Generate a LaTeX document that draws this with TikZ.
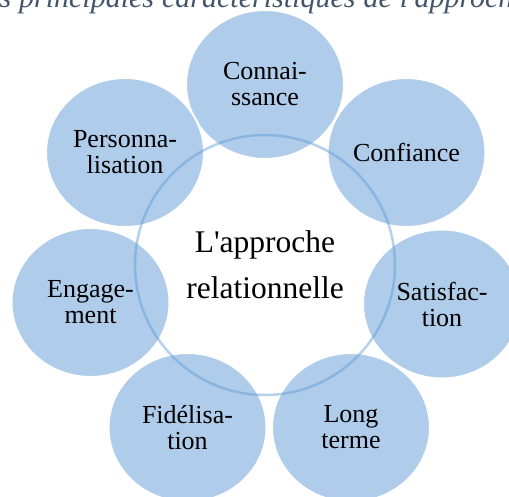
\documentclass[tikz,border=0pt]{standalone}
\usepackage{fontspec}
\setmainfont{Liberation Serif}[Ligatures=TeXOff]
\usetikzlibrary{shapes.geometric}
\definecolor{petalfill}{RGB}{175,204,234}
\definecolor{ringline}{RGB}{91,155,213}
\definecolor{captioncol}{RGB}{68,84,106}
\begin{document}
\begin{tikzpicture}[x=1pt,y=-1pt,
  petal/.style={ellipse, minimum width=158pt, minimum height=149pt,
    fill=petalfill, draw=white, line width=2pt, inner sep=0pt,
    align=center, font=\fontsize{26}{26}\selectfont},
  hub/.style={circle, minimum size=260pt, draw=ringline, draw opacity=0.45,
    line width=2.5pt, inner sep=0pt, align=center,
    font=\fontsize{31.5}{46}\selectfont}]
\useasboundingbox (0,0) rectangle (509,496);
\fill[white] (0,0) rectangle (509,496);
\clip (0,0) rectangle (509,496);

% caption line above the figure, cut by the frame
\node[anchor=base west, inner sep=0pt, text=captioncol,
  font=\fontsize{30}{30}\selectfont\itshape] (caption) at (-14,7)
  {\spaceskip=8pt\relax es principales caractéristiques de l'approche};

% seven petals, clockwise from the top
\node[petal] (con)  at (265,84.5)    {Connai-\\ssance};
\node[petal] (conf) at (406.5,152.5) {Confiance};
\node[petal] (sat)  at (442,304)     {Satisfac-\\tion};
\node[petal] (long) at (351,427.5)   {Long\\terme};
\node[petal] (fid)  at (187.5,427.5) {Fidélisa-\\tion};
\node[petal] (eng)  at (90.5,302.5)  {Engage-\\ment};
\node[petal] (pers) at (125,152.5)   {Personna-\\lisation};

% central ring and its label
\node[hub] (hub) at (265,265) {L'approche\\relationnelle};
\end{tikzpicture}
\end{document}
